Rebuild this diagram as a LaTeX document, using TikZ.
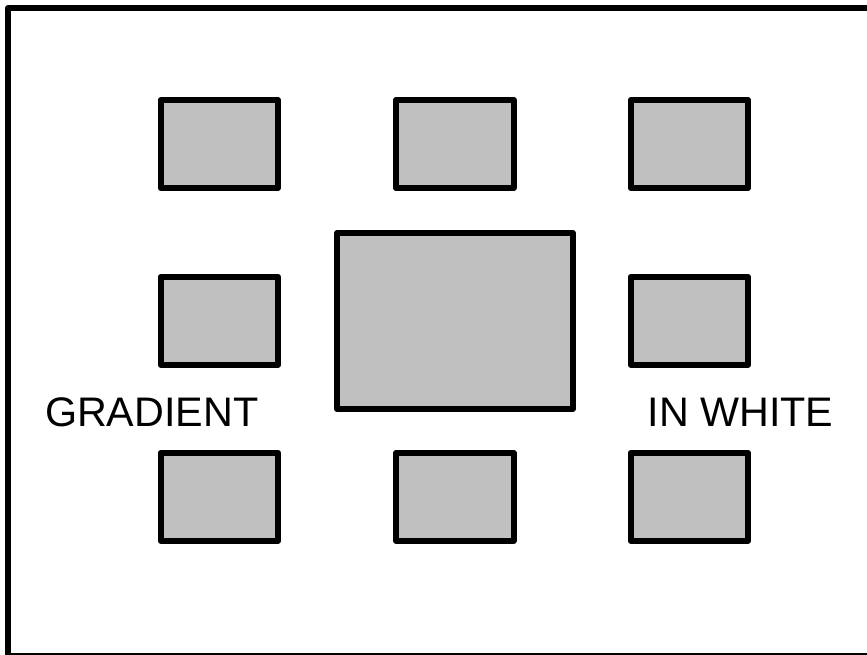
\documentclass[tikz,border=0pt]{standalone}
\usepackage{fontspec}
\setmainfont{Liberation Sans}
\begin{document}
\begin{tikzpicture}[x=1pt,y=-1pt,
  smallbox/.style={draw=black,fill=boxgray,line width=6pt,line join=round,inner sep=0pt,outer sep=0pt,minimum width=117.5pt,minimum height=88pt},
  bigbox/.style={smallbox,minimum width=235.7pt,minimum height=176pt},
  lbl/.style={inner sep=0pt,anchor=base,font=\fontsize{41.3}{50}\selectfont}]
\definecolor{boxgray}{HTML}{C0C0C0}
\useasboundingbox (0,0) rectangle (867,655);
\draw[line width=6pt,line join=round] (8,8) rectangle (872,656);
\node[smallbox] (tl) at (219.3,144) {};
\node[smallbox] (tm) at (454.8,144) {};
\node[smallbox] (tr) at (689.3,144) {};
\node[smallbox] (ml) at (219.3,320.8) {};
\node[smallbox] (mr) at (689.3,320.8) {};
\node[smallbox] (bl) at (219.3,496.8) {};
\node[smallbox] (bm) at (454.8,496.8) {};
\node[smallbox] (br) at (689.3,496.8) {};
\node[bigbox] (c) at (454.8,321) {};
\node[lbl] (g) at (151.7,426) {GRADIENT};
\node[lbl] (w) at (740.5,426) {IN WHITE};
\end{tikzpicture}
\end{document}
